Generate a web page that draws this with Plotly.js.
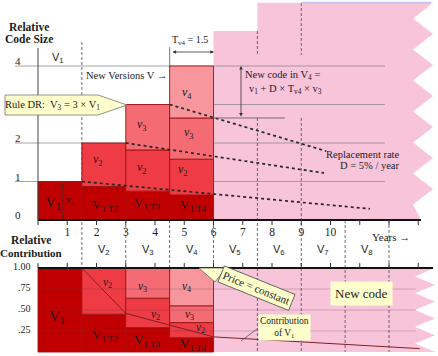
<!DOCTYPE html>
<html>
<head>
<meta charset="utf-8">
<script src="https://cdn.plot.ly/plotly-3.0.1.min.js"></script>
<style>
  html, body { margin: 0; padding: 0; background: #fff; }
  #chart { width: 438px; height: 356px; }
</style>
</head>
<body>
<div id="chart"></div>
<script>
// ---- data -------------------------------------------------------------
// Release columns (years). Every version cycle T_v lasts 1.5 years.
const columnX = [0.75, 2.25, 3.75, 5.25];
const cycleYears = 1.5;

// Upper panel: relative code size, cumulative top of each layer per release
const oldCodeTop = [1.00, 0.87, 0.75, 0.65];   // surviving V1 code
const v2Top      = [null, 2.00, 1.82, 1.58];
const v3Top      = [null, null, 3.00, 2.65];
const v4Top      = [null, null, null, 4.00];

// Lower panel: relative contribution (share of each release)
const oldShareTop = [1.00, 0.45, 0.29, 0.17];
const v2ShareTop  = [null, 1.00, 0.64, 0.35];
const v3ShareTop  = [null, null, 1.00, 0.55];
const v4ShareTop  = [null, null, null, 1.00];

// Replacement-rate trend lines (D = 5% / year)
const decayV1X = [1.5, 11.35], decayV1Y = [1.00, 0.29];
const decayV2X = [3.0, 9.78],  decayV2Y = [2.00, 1.22];
const decayV3X = [4.5, 9.85],  decayV3Y = [3.00, 1.79];

// Contribution of V1 over time
const contribX = [1.5, 3.0, 6.0, 13.05];
const contribY = [1.00, 0.46, 0.18, 0.04];

// Future releases (V5, V6 ...) code size steps
const futureStepX = [6.0, 7.5];
const futureTop   = [4.91, 5.64];

// Axes
const yearTicks  = [0, 1, 2, 3, 4, 5, 6, 7, 8, 9, 10, 11, 12, 13];
const yearLabels = ['', '1', '2', '3', '4', '5', '6', '7', '8', '9', '10', '', '', ''];
const sizeTicks  = [4, 2, 1, 0];
const shareTicks  = [1.00, 0.75, 0.50, 0.25];
const shareLabels = ['1.00', '.75', '.50', '.25'];
const versionEdges = [1.5, 3, 4.5, 6, 7.5, 9, 10.5, 12];
const versionMid   = [2.25, 3.75, 5.25, 6.75, 8.25, 9.75, 11.25];
const versionNames = ['V<sub>2</sub>', 'V<sub>3</sub>', 'V<sub>4</sub>', 'V<sub>5</sub>',
                      'V<sub>6</sub>', 'V<sub>7</sub>', 'V<sub>8</sub>'];

// ---- geometry -----------------------------------------------------------
const W = 438, H = 356;
const X0 = 38, XU = 29.25;      // year 0 pixel, pixels per year
const Y0 = 220, YU = 38.5;      // upper panel: size 0 pixel, pixels per unit
const S0 = 352, SU = 84;        // lower panel: share 0 pixel, pixels per unit
const toX  = p => (p - X0) / XU;
const toY  = p => (Y0 - p) / YU;
const toY2 = p => (S0 - p) / SU;
const PX = p => p / W;
const PY = p => 1 - p / H;

const SERIF = 'Liberation Serif, Times New Roman, serif';
const SANS = 'Liberation Sans, Arial, sans-serif';
const INK = '#1c1c1c';

const COL_OLD = '#C00000', COL_V2 = '#EE3B44', COL_V3 = '#F46B74', COL_V4 = '#F7979D';
const PINK = '#F8C4DA', NOTE = '#FFFFCC';

// ---- bar layers ---------------------------------------------------------
function layer(top, bottom, color, yaxis) {
  const x = [], y = [], base = [];
  top.forEach((t, i) => {
    if (t === null) return;
    const b = bottom ? bottom[i] : 0;
    x.push(columnX[i]); base.push(b); y.push(t - b);
  });
  return {
    type: 'bar', x, y, base, width: cycleYears, yaxis,
    marker: { color, line: { color: '#9A1212', width: 0.9 } },
    hoverinfo: 'skip'
  };
}

const traces = [
  layer(oldCodeTop, null, COL_OLD, 'y'),
  layer(v2Top, oldCodeTop, COL_V2, 'y'),
  layer(v3Top, v2Top, COL_V3, 'y'),
  layer(v4Top, v3Top, COL_V4, 'y'),
  layer(oldShareTop, null, COL_OLD, 'y2'),
  layer(v2ShareTop, oldShareTop, COL_V2, 'y2'),
  layer(v3ShareTop, v2ShareTop, COL_V3, 'y2'),
  layer(v4ShareTop, v3ShareTop, COL_V4, 'y2')
];

const dotted = { color: '#262626', width: 1.7, dash: 'dot' };
[[decayV1X, decayV1Y], [decayV2X, decayV2Y], [decayV3X, decayV3Y]].forEach(([x, y]) => {
  traces.push({ type: 'scatter', mode: 'lines', x, y, yaxis: 'y', line: dotted, hoverinfo: 'skip' });
});
traces.push({ type: 'scatter', mode: 'lines', x: contribX, y: contribY, yaxis: 'y2',
  line: { color: '#7A2424', width: 1 }, hoverinfo: 'skip' });

// ---- shapes -------------------------------------------------------------
const shapes = [];

// future region, upper panel (stepped top, torn right edge)
let up = `M ${futureStepX[0]},0 L ${futureStepX[0]},${futureTop[0]} L ${futureStepX[1]},${futureTop[0]} ` +
         `L ${futureStepX[1]},${futureTop[1]} L ${toX(433)},${futureTop[1]}`;
for (let i = 1; i <= 7; i++) {
  up += ` L ${toX(413)},${toY(3 + 31 * i - 15.5)}`;
  if (i < 7) up += ` L ${toX(433)},${toY(3 + 31 * i)}`;
}
up += ` L ${toX(421)},0 Z`;
shapes.push({ type: 'path', xref: 'x', yref: 'y', path: up, fillcolor: PINK, line: { width: 0 }, layer: 'below' });

// future region, lower panel
let lo = `M ${futureStepX[0]},0 L ${futureStepX[0]},1 L ${toX(435)},1`;
for (let i = 0; i < 5; i++) {
  lo += ` L ${toX(415)},${toY2(268 + 16.8 * i + 8.4)} L ${toX(435)},${toY2(268 + 16.8 * (i + 1))}`;
}
lo += ' Z';
shapes.push({ type: 'path', xref: 'x', yref: 'y2', path: lo, fillcolor: PINK, line: { width: 0 }, layer: 'below' });

// gridlines
[1, 2, 3, 4].forEach(v => shapes.push({ type: 'line', xref: 'x', yref: 'y',
  x0: toX(15), x1: toX(385), y0: v, y1: v, line: { color: '#8E8E8E', width: 0.8 }, layer: 'below' }));
[0.25, 0.5, 0.75].forEach(v => shapes.push({ type: 'line', xref: 'x', yref: 'y2',
  x0: 0, x1: toX(416), y0: v, y1: v, line: { color: 'rgba(90,60,70,0.32)', width: 0.8 }, layer: 'above' }));

// release boundaries
const dash = { color: '#4A4A4A', width: 0.8, dash: '3px,2px' };
function vdash(x, p0, p1) {
  shapes.push({ type: 'line', xref: 'x', yref: 'y', x0: x, x1: x, y0: toY(p0), y1: toY(p1), line: dash, layer: 'below' });
}
vdash(versionEdges[0], 42, 268);
vdash(versionEdges[1], 220, 268);
vdash(versionEdges[2], 220, 268);
vdash(versionEdges[3], 220, 268);
vdash(versionEdges[4], 31, 55);  vdash(versionEdges[4], 118, 352);
vdash(versionEdges[5], 3, 55);   vdash(versionEdges[5], 118, 352);
vdash(versionEdges[6], 220, 352);
vdash(versionEdges[7], 220, 352);

// axis lines and year ticks
shapes.push({ type: 'line', xref: 'x', yref: 'y', x0: 0, x1: toX(421), y0: 0, y1: 0, line: { color: '#111', width: 2 } });
shapes.push({ type: 'line', xref: 'x', yref: 'y', x0: 0, x1: 0, y0: 0, y1: toY(48), line: { color: '#444', width: 1 } });
shapes.push({ type: 'line', xref: 'x', yref: 'y2', x0: 0, x1: toX(433), y0: 1, y1: 1, line: { color: '#111', width: 2 } });
yearTicks.forEach(t => {
  shapes.push({ type: 'line', xref: 'x', yref: 'y', x0: t, x1: t, y0: 0, y1: toY(225), line: { color: '#333', width: 1 } });
  shapes.push({ type: 'line', xref: 'x', yref: 'y2', x0: t, x1: t, y0: 1, y1: toY2(263), line: { color: '#333', width: 1 } });
});

// top edge tint of the future region
shapes.push({ type: 'line', xref: 'x', yref: 'y', x0: 9, x1: toX(431), y0: futureTop[1], y1: futureTop[1],
  line: { color: '#C8C4EE', width: 2 } });

// v3 top carried into the new-code bracket
shapes.push({ type: 'line', xref: 'x', yref: 'y', x0: 6, x1: toX(285), y0: v3Top[3], y1: v3Top[3],
  line: { color: '#555', width: 0.8 } });
// left limit of the T_v4 bracket
shapes.push({ type: 'line', xref: 'x', yref: 'y', x0: 4.5, x1: 4.5, y0: 4, y1: toY(47),
  line: { color: '#555', width: 0.8 } });

// Rule DR callout
shapes.push({ type: 'path', xref: 'paper', yref: 'paper',
  path: `M ${PX(5)},${PY(95)} L ${PX(98)},${PY(95)} L ${PX(127)},${PY(105)} L ${PX(98)},${PY(115)} L ${PX(5)},${PY(115)} Z`,
  fillcolor: NOTE, line: { color: '#777', width: 0.8 } });
// Price callout tail
shapes.push({ type: 'path', xref: 'paper', yref: 'paper',
  path: `M ${PX(199)},${PY(268)} L ${PX(226)},${PY(268)} L ${PX(215)},${PY(282)} Z`,
  fillcolor: NOTE, line: { color: '#666', width: 0.8 } });
// Contribution pointer
shapes.push({ type: 'line', xref: 'paper', yref: 'paper', x0: PX(241), y0: PY(341), x1: PX(257), y1: PY(329),
  line: { color: '#555', width: 0.8 } });

// ---- text ---------------------------------------------------------------
const ann = [];
function txt(text, x, y, size, extra) {
  ann.push(Object.assign({ text, xref: 'paper', yref: 'paper', x: PX(x), y: PY(y), showarrow: false,
    xanchor: 'center', yanchor: 'middle', font: { family: SERIF, size, color: INK } }, extra || {}));
}
function arrow(xh, yh, ax, ay) {
  ann.push({ text: '', xref: 'paper', yref: 'paper', x: PX(xh), y: PY(yh), ax, ay, axref: 'pixel', ayref: 'pixel',
    showarrow: true, arrowside: 'end+start', arrowhead: 2, startarrowhead: 2, arrowsize: 0.9, startarrowsize: 0.9,
    arrowwidth: 0.8, arrowcolor: '#333', standoff: 0, startstandoff: 0 });
}

// titles
txt('<b>Relative</b>', 29, 27, 11.5);
txt('<b>Code Size</b>', 29, 39, 11.5);
txt('<b>Relative</b>', 31, 240, 11.5);
txt('<b>Contribution</b>', 31, 253, 11);

// y tick labels
sizeTicks.forEach(v => ann.push({ text: String(v), xref: 'paper', yref: 'y', x: PX(18), y: v, yshift: 5,
  xanchor: 'center', yanchor: 'middle', showarrow: false, font: { family: SERIF, size: 11, color: INK } }));
shareTicks.forEach((v, i) => ann.push({ text: shareLabels[i], xref: 'paper', yref: 'y2', x: PX(33), y: v, yshift: 2,
  xanchor: 'right', yanchor: 'middle', showarrow: false, font: { family: SERIF, size: 10, color: INK } }));

// release names between the panels
versionMid.forEach((m, i) => ann.push({ text: versionNames[i], xref: 'x', yref: 'paper', x: m, y: PY(250),
  xanchor: 'center', yanchor: 'middle', showarrow: false, font: { family: SANS, size: 11, color: INK } }));
txt('V<sub>1</sub>', 58, 58, 11, { font: { family: SANS, size: 11, color: INK } });

txt('New Versions V →', 84, 75, 10.5, { xanchor: 'left' });
txt('Rule DR:  V<sub>3</sub> = 3 × V<sub>1</sub>', 52, 105, 10.5);
txt('T<sub>v4</sub> = 1.5', 190, 40, 10);
arrow(214, 52, -43, 0);
txt('New code in V<sub>4</sub> =', 243, 75, 10.5, { xanchor: 'left' });
txt('v<sub>1</sub> + D × T<sub>v4</sub> × v<sub>3</sub>', 247, 89, 10.5, { xanchor: 'left' });
arrow(241, 66, 0, 52);
txt('Replacement rate', 402, 154, 10.5, { xanchor: 'right' });
txt('D = 5% / year', 401, 166, 10.5, { xanchor: 'right' });
txt('Years →', 391, 237, 11);

// upper bar labels
txt('V<sub>1</sub>', 53, 203, 15);
txt('v<sub>1</sub>', 70, 200, 10);
arrow(63, 183, 0, 37);
txt('V<sub>1 T2</sub>', 105, 205, 13);
txt('V<sub>1 T3</sub>', 147, 203, 13);
txt('V<sub>1 T4</sub>', 193, 205, 13);
txt('<i>v</i><sub>2</sub>', 98, 160, 12);
txt('<i>v</i><sub>2</sub>', 142, 168, 12);
txt('<i>v</i><sub>2</sub>', 183, 170, 12);
txt('<i>v</i><sub>3</sub>', 142, 125, 12);
txt('<i>v</i><sub>3</sub>', 189, 133, 12);
txt('<i>v</i><sub>4</sub>', 187, 93, 12);

// lower bar labels
txt('V<sub>1</sub>', 57, 317, 15);
txt('V<sub>1 T2</sub>', 105, 335, 13);
txt('V<sub>1 T3</sub>', 147, 340, 13);
txt('V<sub>1 T4</sub>', 193, 344, 13);
txt('<i>v</i><sub>2</sub>', 107, 283, 11.5);
txt('<i>v</i><sub>3</sub>', 142, 287, 11.5);
txt('<i>v</i><sub>2</sub>', 155, 315, 11.5);
txt('<i>v</i><sub>4</sub>', 186, 287, 11.5);
txt('<i>v</i><sub>3</sub>', 189, 315, 11.5);
txt('<i>v</i><sub>2</sub>', 200, 328, 11.5);

// callouts in the lower panel
txt('Price = constant', 256, 288, 11, { textangle: 22, bgcolor: NOTE, bordercolor: '#555', borderwidth: 0.8, borderpad: 2 });
txt('New code', 361, 293, 13, { bgcolor: NOTE, borderpad: 4 });
txt('Contribution<br>of V<sub>1</sub>', 284, 327, 9.5, { bgcolor: NOTE, borderpad: 1 });

// ---- layout -------------------------------------------------------------
const layout = {
  width: W, height: H,
  margin: { l: 0, r: 0, t: 0, b: 0, pad: 0 },
  paper_bgcolor: '#fff', plot_bgcolor: '#fff',
  showlegend: false, barmode: 'overlay',
  font: { family: SERIF, color: INK },
  xaxis: {
    range: [toX(0), toX(W)], anchor: 'free', position: (H - Y0) / H,
    tickvals: yearTicks, ticktext: yearLabels, ticks: '', ticklabelstandoff: 3,
    tickfont: { family: SERIF, size: 11.5, color: INK },
    showline: false, showgrid: false, zeroline: false, fixedrange: true
  },
  yaxis: { range: [toY(H), toY(0)], visible: false, fixedrange: true },
  yaxis2: { range: [toY2(H), toY2(0)], overlaying: 'y', visible: false, fixedrange: true },
  shapes, annotations: ann
};

Plotly.newPlot('chart', traces, layout, { displayModeBar: false, staticPlot: true });
</script>
</body>
</html>
